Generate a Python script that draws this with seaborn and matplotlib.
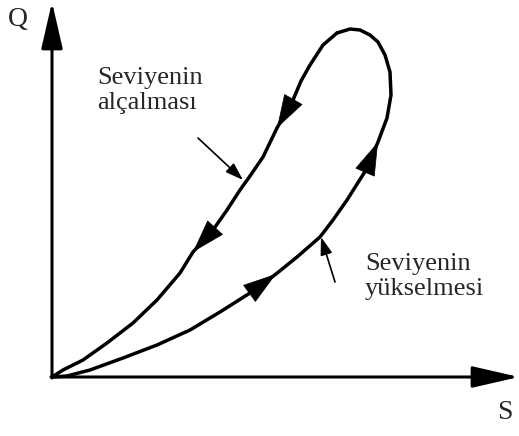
import pandas as pd
import seaborn as sns
import matplotlib.pyplot as plt

sns.set_theme(style="white")
plt.rcParams['font.family'] = ['Liberation Serif', 'DejaVu Serif']

# loop (S = storage, Q = discharge, arbitrary units)
rise_s = [0, 1.5, 3.8, 7.1, 10.5, 13.8, 16.8, 19.8, 22.4, 24.5, 26.8, 28.1, 29.5, 30.7,
          31.4, 32.6, 33.5, 33.9, 33.8, 33.3, 32.6, 31.8, 30.8, 29.8, 28.5]
rise_q = [0, 0.1, 0.7, 1.9, 3.2, 4.7, 6.5, 8.4, 10.3, 12.0, 14.0, 15.7, 17.7, 19.6,
          20.7, 23.5, 25.9, 28.2, 30.5, 32.2, 33.5, 34.2, 34.7, 34.8, 34.4]
fall_s = [28.5, 27.1, 25.8, 24.9, 24.1, 22.5, 21.1, 19.8, 18.8, 17.5, 16.1, 14.1,
          12.8, 10.5, 8.1, 5.5, 3.1, 1.1, 0]
fall_q = [34.4, 33.2, 31.2, 29.6, 27.7, 24.9, 22.0, 20.1, 18.7, 16.7, 14.7, 12.5,
          10.4, 7.7, 5.4, 3.4, 1.7, 0.7, 0]

# direction arrows: drawn from point i to point i+1 of the branch
rise_arrows = [7, 14]
fall_arrows = [4, 10]

labels = ["Seviyenin\nalçalması", "Seviyenin\nyükselmesi"]

df = pd.concat([
    pd.DataFrame({"S": rise_s, "Q": rise_q, "branch": "rise"}),
    pd.DataFrame({"S": fall_s, "Q": fall_q, "branch": "fall"}),
])

fig = plt.figure(figsize=(5.19, 4.36), dpi=100)
ax = fig.add_axes([0, 0, 1, 1])
sns.lineplot(data=df, x="S", y="Q", units="branch", estimator=None, sort=False,
             color="black", lw=2.5, ax=ax, legend=False,
             solid_capstyle="round", solid_joinstyle="round")
ax.set_xlim(-5.2, 46.7)
ax.set_ylim(-5.9, 37.7)
ax.set_axis_off()

head = dict(arrowstyle="-|>,head_length=1.9,head_width=0.6", color="black", lw=0.5,
            shrinkA=0, shrinkB=0)
for xs, ys, idx in [(rise_s, rise_q, rise_arrows), (fall_s, fall_q, fall_arrows)]:
    for i in idx:
        ax.annotate("", xy=(xs[i + 1], ys[i + 1]), xytext=(xs[i], ys[i]), arrowprops=head)

# axes with arrow heads
axis_arrow = dict(arrowstyle="-|>,head_length=2.4,head_width=0.55", color="black", lw=2.2,
                  shrinkA=0, shrinkB=0)
ax.annotate("", xy=(0, 37.5), xytext=(0, -0.1), arrowprops=axis_arrow)
ax.annotate("", xy=(46.7, 0), xytext=(-0.1, 0), arrowprops=axis_arrow)
ax.text(-3.4, 35.8, "Q", fontsize=20, ha="center", va="center")
ax.text(45.3, -3.5, "S", fontsize=20, ha="center", va="center")

# labels with pointer arrows
pointer = dict(arrowstyle="-|>,head_length=0.9,head_width=0.3", color="black", lw=1.2,
               shrinkA=0, shrinkB=0)
ax.text(4.5, 31.0, labels[0], fontsize=19, ha="left", va="top", linespacing=1.15)
ax.annotate("", xy=(19.1, 19.7), xytext=(14.6, 23.9), arrowprops=pointer)
ax.text(31.3, 12.4, labels[1], fontsize=19, ha="left", va="top", linespacing=1.15)
ax.annotate("", xy=(26.9, 14.0), xytext=(28.3, 9.5), arrowprops=pointer)

fig.savefig("out.png", dpi=100, facecolor="white")
